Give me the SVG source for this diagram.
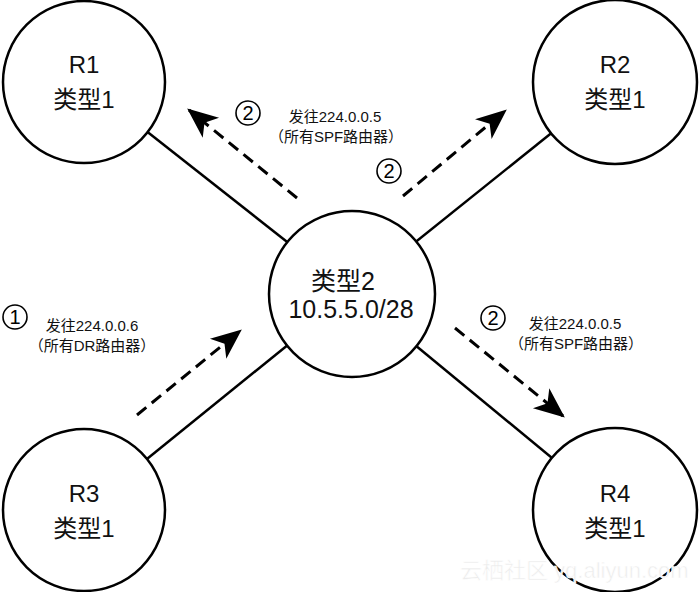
<svg xmlns="http://www.w3.org/2000/svg" width="700" height="592" viewBox="0 0 700 592">
<style>
.node{fill:#fff;stroke:#000;stroke-width:2.5}
.link{stroke:#000;stroke-width:2.5;fill:none}
.flow{stroke:#000;stroke-width:3;fill:none;stroke-dasharray:12 7}
.lbl{font-family:"Liberation Sans","Noto Sans CJK SC",sans-serif;fill:#111;text-anchor:middle}
.big{font-size:24px}
.mid{font-size:25px}
.sm{font-size:15px}
.num{fill:#fff;stroke:#000;stroke-width:1.6}
.numt{font-family:"Liberation Sans",sans-serif;font-size:20px;text-anchor:middle;fill:#000}
.wm{font-family:"Liberation Sans","Noto Sans CJK SC",sans-serif;font-size:22px;fill:#ececec;stroke:#fff;stroke-width:0.6}
</style>
<defs>
<marker id="ah" markerUnits="userSpaceOnUse" markerWidth="40" markerHeight="40" viewBox="-30 -15 34 30" refX="0" refY="0" orient="auto">
<path d="M2,0 L-24,-11 L-17,0 L-24,11 Z" fill="#000"/>
</marker>
</defs>
<g id="connectors">
<line class="link" x1="84" y1="82" x2="352" y2="293"/>
<line class="link" x1="615" y1="82" x2="352" y2="293"/>
<line class="link" x1="84" y1="510" x2="352" y2="293"/>
<line class="link" x1="615" y1="510" x2="352" y2="293"/>
<line class="flow" x1="297" y1="198" x2="189" y2="110" marker-end="url(#ah)"/>
<line class="flow" x1="403" y1="196" x2="505" y2="111" marker-end="url(#ah)"/>
<line class="flow" x1="137" y1="415" x2="240" y2="331" marker-end="url(#ah)"/>
<line class="flow" x1="455" y1="328" x2="563" y2="416" marker-end="url(#ah)"/>
</g>
<g id="R1">
<circle class="node" cx="84" cy="82" r="81"/>
<text class="lbl big" x="84" y="73">R1</text>
<text class="lbl big" x="84" y="108">类型1</text>
</g>
<g id="R2">
<circle class="node" cx="615" cy="82" r="82"/>
<text class="lbl big" x="615" y="73">R2</text>
<text class="lbl big" x="615" y="108">类型1</text>
</g>
<g id="R3">
<circle class="node" cx="84" cy="510" r="81"/>
<text class="lbl big" x="84" y="502">R3</text>
<text class="lbl big" x="84" y="537">类型1</text>
</g>
<g id="R4">
<circle class="node" cx="615" cy="510" r="82"/>
<text class="lbl big" x="615" y="502">R4</text>
<text class="lbl big" x="615" y="537">类型1</text>
</g>
<g id="net">
<circle class="node" cx="352" cy="294" r="83"/>
<text class="lbl mid" x="343" y="290">类型2</text>
<text class="lbl mid" x="351" y="318">10.5.5.0/28</text>
</g>
<g id="label-top">
<circle class="num" cx="248" cy="113" r="12"/>
<text class="numt" x="248" y="120">2</text>
<text class="lbl sm" x="335" y="122">发往224.0.0.5</text>
<text class="lbl sm" x="336" y="142">（所有SPF路由器）</text>
<circle class="num" cx="389" cy="171" r="12"/>
<text class="numt" x="389" y="178">2</text>
</g>
<g id="label-left">
<circle class="num" cx="15" cy="317" r="12"/>
<text class="numt" x="15" y="324">1</text>
<text class="lbl sm" x="92" y="331">发往224.0.0.6</text>
<text class="lbl sm" x="92" y="351">（所有DR路由器）</text>
</g>
<g id="label-right">
<circle class="num" cx="493" cy="318" r="12"/>
<text class="numt" x="493" y="325">2</text>
<text class="lbl sm" x="575" y="329">发往224.0.0.5</text>
<text class="lbl sm" x="576" y="349">（所有SPF路由器）</text>
</g>
<text class="wm" x="460" y="578">云栖社区 yq.aliyun.com</text>
</svg>
